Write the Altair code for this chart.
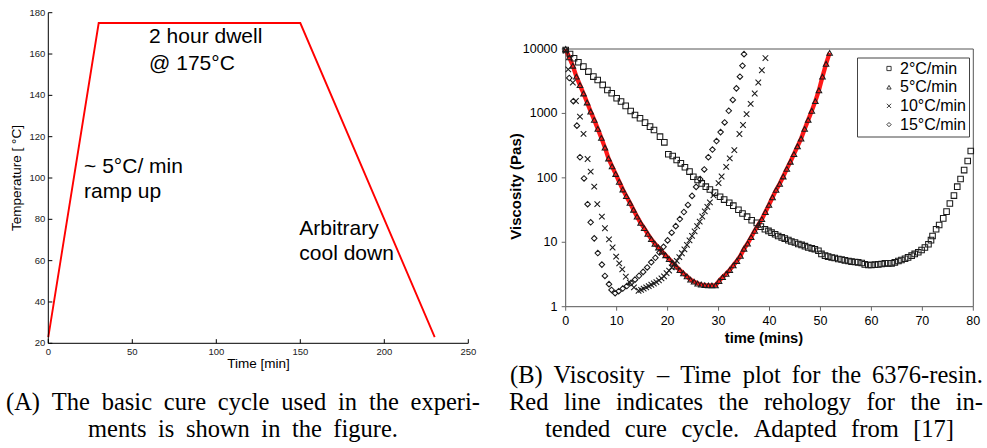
import altair as alt
import pandas as pd

# ---------------- Panel A: basic cure cycle ----------------
cycle_time = [0, 30, 150, 230]
cycle_temp = [23, 175, 175, 23]
a_xticks = [0, 50, 100, 150, 200, 250]
a_yticks = [20, 40, 60, 80, 100, 120, 140, 160, 180]

# ---------------- Panel B: viscosity vs time ----------------
series_labels = ["2°C/min", "5°C/min", "10°C/min", "15°C/min"]

t2 = [0, 0.85, 1.64, 2.49, 3.47, 4.45, 5.43, 6.28, 7.26, 8.18, 9.03, 10.0, 10.86, 11.77, 12.75, 13.6,
      14.58, 15.57, 16.55, 17.33, 18.51, 19.36, 20.14, 21.0, 21.78, 22.6, 23.4, 24.3, 25.05, 25.9, 26.7,
      27.5, 28.3, 29.3, 30.3, 31.1, 32.1, 32.9, 33.9, 34.7, 35.6, 36.5, 37.5, 38.3, 39.1, 39.8, 40.4,
      41.1, 41.7, 42.4, 43.0, 43.7, 44.3, 45.0, 45.65, 46.3, 46.96, 47.6, 48.3, 48.9, 49.6, 50.2, 50.9,
      51.5, 52.2, 52.8, 53.5, 54.15, 54.8, 55.5, 56.1, 56.8, 57.4, 58.1, 58.7, 59.4, 60.0, 60.7, 61.35,
      62.0, 62.65, 63.3, 63.96, 64.6, 65.3, 65.9, 66.6, 67.2, 67.9, 68.5, 69.2, 69.85, 70.5, 71.2, 71.7,
      72.0, 72.7, 73.3, 74.1, 74.75, 75.4, 76.2, 76.85, 77.5, 78.2, 78.9, 79.5]
v2 = [9670, 8380, 7180, 6220, 5330, 4460, 3730, 3310, 2770, 2310, 2060, 1720, 1530, 1310, 1090, 946,
      840, 720, 624, 553, 436, 356, 232, 218, 189, 168, 146, 125, 104, 93, 82,
      73, 66, 59, 51, 46, 41, 37, 32, 28, 25, 22, 20, 17.5, 15.9, 15.0, 14.1,
      13.3, 12.5, 11.9, 11.4, 10.8, 10.3, 9.9, 9.4, 9.1, 8.7, 8.3, 8.05, 7.8, 7.4, 6.6, 6.2,
      6.0, 5.8, 5.7, 5.5, 5.4, 5.24, 5.12, 5.0, 4.94, 4.88, 4.76, 4.54, 4.44, 4.44, 4.49, 4.54,
      4.6, 4.71, 4.71, 4.71, 4.88, 5.12, 5.3, 5.56, 5.83, 6.2, 6.6, 7.0, 7.6, 8.3, 9.3, 10.8,
      12.5, 15.9, 18.5, 23.5, 29.9, 40, 53, 73, 96, 132, 183, 261]

t5 = [0, 0.7, 1.4, 2.1, 2.8, 3.5, 4.2, 4.9, 5.6, 6.3, 7.0, 7.7, 8.4, 9.1, 9.8, 10.5, 11.2, 11.9, 12.6,
      13.3, 14.0, 14.7, 15.4, 16.1, 16.8, 17.5, 18.2, 18.9, 19.6, 20.3, 21.0, 21.7, 22.4, 23.1, 23.8,
      24.5, 25.2, 25.9, 26.6, 27.3, 28.0, 28.7, 29.4, 30.1, 30.8, 31.5, 32.2, 32.9, 33.6, 34.3, 35.0,
      35.7, 36.4, 37.1, 37.8, 38.5, 39.2, 39.9, 40.6, 41.3, 42.0, 42.7, 43.4, 44.1, 44.8, 45.5, 46.2,
      46.9, 47.6, 48.3, 49.0, 49.7, 50.4, 51.1, 51.8]
v5 = [10000, 7410, 5500, 3720, 2750, 2040, 1480, 1070, 794, 575, 417, 295, 200, 151, 115, 87, 66, 52, 41,
      32, 25, 20, 16.6, 13.5, 11.2, 9.5, 8.3, 7.2, 6.3, 5.5, 4.8, 4.2, 3.7, 3.3, 2.95,
      2.63, 2.45, 2.29, 2.21, 2.16, 2.14, 2.14, 2.14, 2.51, 2.88, 3.24, 3.72, 4.37, 5.13, 6.17, 7.94,
      9.55, 12.0, 15.1, 18.6, 22.9, 29.5, 38, 50, 65, 81, 105, 138, 178, 234, 309, 407,
      575, 794, 1100, 1550, 2290, 3720, 5890, 8710]

t10 = [0, 0.5, 1.4, 2.0, 2.8, 3.5, 4.3, 4.9, 5.6, 6.2, 7.1, 7.7, 8.5, 9.2, 9.9, 10.5, 11.1, 11.8, 12.6,
       13.4, 14.3, 14.8, 15.3, 15.8, 16.3, 16.8, 17.3, 17.8, 18.3, 18.8, 19.3, 19.8, 20.3, 20.8, 21.3,
       21.8, 22.3, 22.8, 23.3, 23.8, 24.3, 24.8, 25.3, 25.8, 26.3, 26.8, 27.3, 27.8, 28.3, 29.0, 30.0,
       30.6, 31.5, 32.2, 33.1, 34.1, 34.8, 35.5, 36.3, 37.1, 37.8, 38.5, 39.2]
v10 = [9440, 4840, 3010, 1560, 891, 480, 196, 125, 73, 39, 25, 16.5, 11.1, 8.3, 6.0, 4.7, 3.8, 2.92, 2.36,
       2.0, 1.77, 1.82, 1.91, 2.0, 2.09, 2.19, 2.29, 2.40, 2.57, 2.75, 2.95, 3.31, 3.63, 4.07, 4.57,
       5.13, 5.89, 6.76, 7.76, 9.12, 10.7, 12.6, 14.8, 17.8, 20.9, 25.1, 30.2, 35.5, 41.7, 53.7, 83,
       105, 148, 200, 269, 479, 661, 977, 1410, 2040, 3020, 4680, 7240]

t15 = [0.7, 1.5, 2.2, 2.8, 3.6, 4.3, 4.9, 5.6, 6.3, 7.1, 7.7, 8.5, 9.0, 9.7, 10.4, 11.2, 12.0, 12.8,
       13.6, 14.4, 15.2, 16.0, 16.8, 17.6, 18.4, 19.2, 20.0, 20.8, 21.6, 22.4, 23.2, 24.0, 24.8, 25.6,
       26.4, 27.2, 28.0, 28.8, 29.6, 30.4, 31.2, 32.0, 32.8, 33.5, 34.2, 34.7, 35.0]
v15 = [3550, 1550, 646, 209, 98, 39, 20.4, 11.5, 6.8, 4.5, 3.0, 2.24, 1.82, 1.62, 1.74, 1.91, 2.09, 2.34,
       2.63, 3.02, 3.47, 4.07, 4.90, 5.75, 6.92, 8.51, 10.7, 14.1, 17.8, 22.9, 29.5, 38.0, 52.5, 72.4,
       95.5, 135, 209, 275, 372, 513, 724, 1100, 1620, 2450, 3720, 5500, 8320]

b_xticks = [0, 10, 20, 30, 40, 50, 60, 70, 80]
b_yticks = [1, 10, 100, 1000, 10000]

caption_a = ["(A) The basic cure cycle used in the experi-", "ments is shown in the figure."]
caption_b = ["(B) Viscosity – Time plot for the 6376-resin.",
             "Red line indicates the rehology for the in-",
             "tended cure cycle. Adapted from [17]"]

# ---------------- layout / style ----------------
W, H = 987, 448
SANS = "Liberation Sans"
SERIF = "Liberation Serif"
ONE = pd.DataFrame({"a": [0]})

# ===== Panel A =====
xa = alt.Scale(domain=[a_xticks[0], a_xticks[-1]], range=[48.3, 468.3], nice=False, zero=False)
ya = alt.Scale(domain=[a_yticks[0], a_yticks[-1]], range=[343.3, 12.7], nice=False, zero=False)

cyc = pd.DataFrame({"t": cycle_time, "T": cycle_temp})
a_line = alt.Chart(cyc).mark_line(color="#ff0000", strokeWidth=1.9).encode(
    x=alt.X("t:Q", scale=xa, axis=None), y=alt.Y("T:Q", scale=ya, axis=None))

a_domx = alt.Chart(ONE).mark_rule(color="black", strokeWidth=1).encode(
    x=alt.XDatum(a_xticks[0], axis=None), x2=alt.datum(a_xticks[-1]),
    y=alt.YDatum(a_yticks[0], axis=None))
a_domy = alt.Chart(ONE).mark_rule(color="black", strokeWidth=1).encode(
    y=alt.YDatum(a_yticks[0], axis=None), y2=alt.datum(a_yticks[-1]),
    x=alt.XDatum(a_xticks[0], axis=None))
# inward ticks
a_xt = alt.Chart(pd.DataFrame({"v": a_xticks})).mark_rule(color="black", strokeWidth=1).encode(
    x=alt.X("v:Q", axis=None), y=alt.YDatum(20, axis=None), y2=alt.datum(22))
a_yt = alt.Chart(pd.DataFrame({"v": a_yticks})).mark_rule(color="black", strokeWidth=1).encode(
    y=alt.Y("v:Q", axis=None), x=alt.XDatum(0, axis=None), x2=alt.datum(2.4))
a_xl = alt.Chart(pd.DataFrame({"v": a_xticks})).mark_text(
    font=SANS, fontSize=9.5, color="#222", align="center", baseline="middle").encode(
    x=alt.X("v:Q", axis=None), y=alt.value(352), text=alt.Text("v:Q", format="d"))
a_yl = alt.Chart(pd.DataFrame({"v": a_yticks})).mark_text(
    font=SANS, fontSize=9.5, color="#222", align="right", baseline="middle").encode(
    y=alt.Y("v:Q", axis=None), x=alt.value(45.3), text=alt.Text("v:Q", format="d"))
a_xtitle = alt.Chart(pd.DataFrame({"s": ["Time [min]"]})).mark_text(
    font=SANS, fontSize=13.5, color="black", align="center", baseline="middle").encode(
    x=alt.value(258.5), y=alt.value(364), text="s:N")
a_ytitle = alt.Chart(pd.DataFrame({"s": ["Temperature [ °C]"]})).mark_text(
    font=SANS, fontSize=13.5, color="black", align="center", baseline="middle", angle=270).encode(
    x=alt.value(17), y=alt.value(178), text="s:N")

notes = [("2 hour dwell", 60, 165.2), ("@ 175°C", 60, 152.3),
         ("~ 5°C/ min", 21.3, 102.3), ("ramp up", 21.3, 90.5),
         ("Arbitrary", 149.4, 72.4), ("cool down", 149.4, 60.3)]
a_notes = [
    alt.Chart(pd.DataFrame({"txt": [s]})).mark_text(
        font=SANS, fontSize=21, color="black", align="left", baseline="alphabetic").encode(
        x=alt.XDatum(nx, axis=None), y=alt.YDatum(ny, axis=None), text="txt:N")
    for s, nx, ny in notes
]
panel_a = alt.layer(a_line, a_domx, a_domy, a_xt, a_yt, a_xl, a_yl, a_xtitle, a_ytitle, *a_notes)

# ===== Panel B =====
xb = alt.Scale(domain=[b_xticks[0], b_xticks[-1]], range=[565.7, 973.3], nice=False, zero=False)
yb = alt.Scale(type="log", domain=[b_yticks[0], b_yticks[-1]], range=[306.7, 49], nice=False)

rows = []
for lab, ts, vs in zip(series_labels, [t2, t5, t10, t15], [v2, v5, v10, v15]):
    for t, v in zip(ts, vs):
        rows.append({"s": lab, "t": t, "v": v})
dfp = pd.DataFrame(rows)
df5 = pd.DataFrame({"t": t5, "v": v5})

frame = alt.Chart(ONE).mark_rect(filled=False, stroke="#555", strokeWidth=1).encode(
    x=alt.XDatum(b_xticks[0], scale=xb, axis=None), x2=alt.datum(b_xticks[-1]),
    y=alt.YDatum(b_yticks[0], scale=yb, axis=None), y2=alt.datum(b_yticks[-1]))

b_xt = alt.Chart(pd.DataFrame({"v": b_xticks})).mark_rule(color="#666", strokeWidth=1).encode(
    x=alt.X("v:Q", axis=None), y=alt.YDatum(b_yticks[0], axis=None), y2=alt.value(310.7))
b_yt = alt.Chart(pd.DataFrame({"v": b_yticks})).mark_rule(color="#666", strokeWidth=1).encode(
    y=alt.Y("v:Q", axis=None), x=alt.XDatum(b_xticks[0], axis=None), x2=alt.value(561.7))
b_xl = alt.Chart(pd.DataFrame({"v": b_xticks})).mark_text(
    font=SANS, fontSize=12.5, color="black", align="center", baseline="middle").encode(
    x=alt.X("v:Q", axis=None), y=alt.value(321), text=alt.Text("v:Q", format="d"))
b_yl = alt.Chart(pd.DataFrame({"v": b_yticks})).mark_text(
    font=SANS, fontSize=12.5, color="black", align="right", baseline="middle").encode(
    y=alt.Y("v:Q", axis=None), x=alt.value(557.5), text=alt.Text("v:Q", format="d"))
b_xtitle = alt.Chart(pd.DataFrame({"s": ["time (mins)"]})).mark_text(
    font=SANS, fontSize=14.7, fontWeight="bold", color="black", align="center",
    baseline="middle").encode(x=alt.value(764), y=alt.value(338.5), text="s:N")
b_ytitle = alt.Chart(pd.DataFrame({"s": ["Viscosity (Pas)"]})).mark_text(
    font=SANS, fontSize=15, fontWeight="bold", color="black", align="center",
    baseline="middle", angle=270).encode(x=alt.value(515.5), y=alt.value(186.5), text="s:N")

red = alt.Chart(df5).mark_line(color="#ff0000", strokeWidth=4.3, opacity=0.9).encode(
    x=alt.X("t:Q", scale=xb, axis=None), y=alt.Y("v:Q", scale=yb, axis=None))

x_shape = "M-1,-1L1,1M-1,1L1,-1"
pts = alt.Chart(dfp).mark_point(filled=False, strokeWidth=1.05, opacity=1).encode(
    x=alt.X("t:Q", axis=None),
    y=alt.Y("v:Q", axis=None),
    shape=alt.Shape("s:N", scale=alt.Scale(
        domain=series_labels, range=["square", "triangle-up", x_shape, "diamond"]),
        legend=alt.Legend(title=None, orient="none", legendX=857, legendY=57.5,
                          direction="vertical", padding=3, strokeColor="#444",
                          fillColor="white", labelFont=SANS, labelFontSize=16,
                          labelColor="black", symbolSize=18, symbolStrokeWidth=0.9,
                          symbolStrokeColor="#222", symbolOffset=21, labelOffset=3,
                          rowPadding=2.7)),
    color=alt.value("#1a1a1a"),
    size=alt.value(31),
)
panel_b = alt.layer(frame, b_xt, b_yt, b_xl, b_yl, b_xtitle, b_ytitle, red, pts)

# ===== Captions (justified like the LaTeX source) =====
TIMES = {**{c: w for c, w in zip("abcdefghijklmnopqrstuvwxyz",
                                 [444, 500, 444, 500, 444, 333, 500, 500, 278, 278, 500, 278, 778,
                                  500, 500, 500, 500, 333, 389, 278, 500, 500, 722, 500, 500, 444])},
         **{c: w for c, w in zip("ABCDEFGHIJKLMNOPQRSTUVWXYZ",
                                 [722, 667, 667, 722, 611, 556, 722, 722, 333, 389, 722, 611, 889,
                                  722, 722, 556, 722, 667, 556, 611, 722, 722, 944, 722, 722, 611])},
         "(": 333, ")": 333, "[": 333, "]": 333, "-": 333, "–": 500, ".": 250, ",": 250}
CAP_SIZE = 24.5


def word_w(w):
    return sum(TIMES.get(ch, 500) for ch in w) / 1000 * CAP_SIZE


cap_lines = [(caption_a[0], 6, 480, 410), (caption_a[1], 88, 398, 437),
             (caption_b[0], 510, 983, 383), (caption_b[1], 509, 983, 410),
             (caption_b[2], 545, 954, 437)]
cap_rows = []
for line, x0, x1, by in cap_lines:
    words = line.split(" ")
    widths = [word_w(w) for w in words]
    gap = (x1 - x0 - sum(widths)) / (len(words) - 1)
    cx = x0
    for w, ww in zip(words, widths):
        cap_rows.append({"w": w, "px": cx, "py": by})
        cx += ww + gap
captions = alt.Chart(pd.DataFrame(cap_rows)).mark_text(
    font=SERIF, fontSize=CAP_SIZE, color="black", align="left", baseline="alphabetic").encode(
    x=alt.X("px:Q", scale=None, axis=None), y=alt.Y("py:Q", scale=None, axis=None), text="w:N")

chart = alt.layer(panel_a, panel_b, captions).resolve_scale(
    x="independent", y="independent"
).properties(
    width=W, height=H, autosize=alt.AutoSizeParams(type="none"), padding=0
).configure_view(stroke=None)

chart.save("out.html", embed_options={"renderer": "svg", "actions": False})
